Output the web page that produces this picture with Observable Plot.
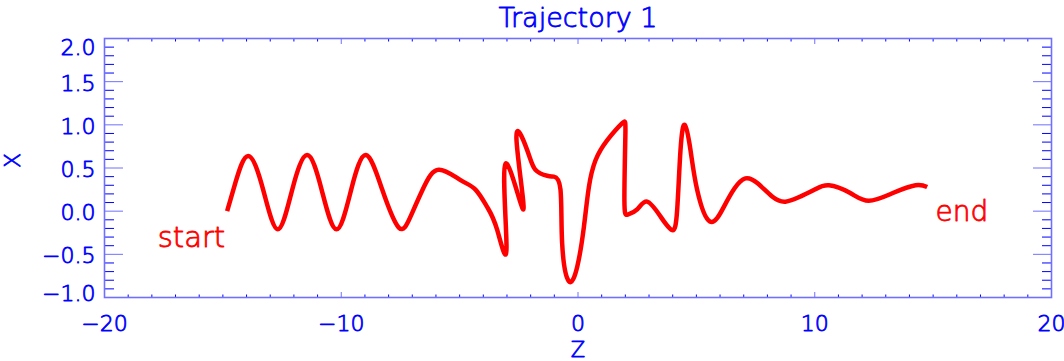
<!DOCTYPE html>
<html><head><meta charset="utf-8">
<script src="https://cdn.jsdelivr.net/npm/d3@7"></script>
<script src="https://cdn.jsdelivr.net/npm/@observablehq/plot@0.6"></script>
<style>html,body{margin:0;padding:0;background:#fff;}</style>
</head><body><div id="chart"></div>
<script>
const titleText = "Trajectory 1";
const xTitle = "Z";
const yTitle = "X";

// trajectory points (Z, X)
const zValues = [-14.82, -14.47, -13.93, -13.30, -12.68, -12.07, -11.44, -10.83, -10.20, -9.58, -8.96, -8.27, -7.57, -7.07, -6.51, -5.88, -4.96, -4.33, -3.84, -3.41, -3.02, -3.06, -2.31, -2.60, -2.15, -1.80, -1.30, -1.02, -0.74, -0.67, -0.39, -0.03, 0.25, 0.46, 0.74, 1.23, 1.87, 2.00, 1.96, 2.10, 2.50, 2.92, 3.48, 3.98, 4.19, 4.33, 4.51, 4.75, 5.03, 5.57, 6.16, 6.60, 7.07, 7.60, 8.20, 8.76, 9.40, 10.00, 10.60, 11.50, 12.28, 13.30, 14.26, 14.75];
const xValues = [0.00, 0.33, 0.64, 0.25, -0.21, 0.25, 0.65, 0.25, -0.21, 0.25, 0.65, 0.25, -0.19, -0.06, 0.28, 0.48, 0.36, 0.25, 0.05, -0.22, -0.42, 0.55, 0.02, 0.84, 0.71, 0.48, 0.41, 0.40, 0.25, -0.37, -0.81, -0.64, -0.18, 0.28, 0.59, 0.82, 1.02, 0.86, 0.13, -0.04, 0.02, 0.11, -0.06, -0.22, 0.02, 0.71, 1.00, 0.71, 0.25, -0.12, 0.05, 0.26, 0.38, 0.32, 0.17, 0.11, 0.17, 0.25, 0.30, 0.21, 0.12, 0.21, 0.30, 0.28];

const xMajorTicks = [-20, -10, 0, 10, 20];
const xMinorTicks = [-19,-18,-17,-16,-15,-14,-13,-12,-11,-9,-8,-7,-6,-5,-4,-3,-2,-1,1,2,3,4,5,6,7,8,9,11,12,13,14,15,16,17,18,19];
const yMajorTicks = [-1.0, -0.5, 0.0, 0.5, 1.0, 1.5, 2.0];
const yMinorTicks = [-0.9,-0.8,-0.7,-0.6,-0.4,-0.3,-0.2,-0.1,0.1,0.2,0.3,0.4,0.6,0.7,0.8,0.9,1.1,1.2,1.3,1.4,1.6,1.7,1.8,1.9];
const yInnerLabels = [-0.5, 0.0, 0.5, 1.0, 1.5];
const yTopLabel = [2.0];
const yBottomLabel = [-1.0];

const annLabels = ["start", "end"];
const annZ = [-14.9, 15.1];
const annX = [-0.31, -0.01];

const points = zValues.map((z, i) => ({z, x: xValues[i]}));
const ann = annLabels.map((label, i) => ({label, z: annZ[i], x: annX[i]}));

const blue = "#0000ff";
const red = "#ff0000";
const frameBlue = "#7070ff";
const fmt = d3.format(".1f");
const font = "DejaVu Sans";
const tw = 0.8; // stroke added to thin glyphs

const labelStyle = {fontSize: 22, fill: blue, textStroke: blue, textStrokeWidth: tw, label: null};

const chart = Plot.plot({
  width: 1064,
  height: 361,
  marginLeft: 104,
  marginRight: 13,
  marginTop: 38,
  marginBottom: 64,
  style: {fontFamily: font, fontWeight: "200", color: blue, background: "#fff"},
  x: {domain: [-20, 20]},
  y: {domain: [-1, 2]},
  marks: [
    // bottom axis labels and ticks
    Plot.axisX(xMajorTicks, {anchor: "bottom", tickSize: 0, tickPadding: 18, ...labelStyle}),
    Plot.axisX(xMajorTicks, {anchor: "bottom", tickSize: 5, dy: -5, stroke: frameBlue, fill: "none", label: null}),
    Plot.axisX(xMinorTicks, {anchor: "bottom", tickSize: 2.5, dy: -2.5, stroke: blue, fill: "none", label: null}),
    Plot.axisX(xMajorTicks, {anchor: "top", tickSize: 5, dy: 5, stroke: frameBlue, fill: "none", label: null}),
    Plot.axisX(xMinorTicks, {anchor: "top", tickSize: 2.5, dy: 2.5, stroke: blue, fill: "none", label: null}),
    // left axis labels and ticks
    Plot.axisY(yInnerLabels, {anchor: "left", tickSize: 0, tickPadding: 9, dy: 2, tickFormat: fmt, ...labelStyle}),
    Plot.axisY(yTopLabel, {anchor: "left", tickSize: 0, tickPadding: 9, dy: 9, tickFormat: fmt, ...labelStyle}),
    Plot.axisY(yBottomLabel, {anchor: "left", tickSize: 0, tickPadding: 9, dy: -4, tickFormat: fmt, ...labelStyle}),
    Plot.axisY(yMajorTicks, {anchor: "left", tickSize: 19, dx: 19, stroke: frameBlue, fill: "none", label: null}),
    Plot.axisY(yMinorTicks, {anchor: "left", tickSize: 10, dx: 10, stroke: blue, fill: "none", label: null}),
    Plot.axisY(yMajorTicks, {anchor: "right", tickSize: 19, dx: -19, stroke: frameBlue, fill: "none", label: null}),
    Plot.axisY(yMinorTicks, {anchor: "right", tickSize: 10, dx: -10, stroke: blue, fill: "none", label: null}),
    Plot.frame({stroke: frameBlue, strokeWidth: 1.6}),
    // trajectory
    Plot.line(points, {x: "z", y: "x", curve: "natural", stroke: red, strokeWidth: 4.5, strokeLinejoin: "round", strokeLinecap: "butt"}),
    Plot.text(ann.slice(0, 1), {x: "z", y: "x", text: "label", textAnchor: "end", fontSize: 29, fill: red, stroke: red, strokeWidth: tw}),
    Plot.text(ann.slice(1), {x: "z", y: "x", text: "label", textAnchor: "start", fontSize: 28, fill: red, stroke: red, strokeWidth: tw}),
    // titles
    Plot.text([titleText], {frameAnchor: "top", text: d => d, lineAnchor: "bottom", dy: -12, fontSize: 27, fill: blue, stroke: blue, strokeWidth: tw}),
    Plot.text([xTitle], {frameAnchor: "bottom", text: d => d, lineAnchor: "bottom", dy: 59, fontSize: 21, fill: blue, stroke: blue, strokeWidth: tw}),
    Plot.text([yTitle], {frameAnchor: "left", text: d => d, rotate: -90, dx: -92, fontSize: 22, fill: blue, stroke: blue, strokeWidth: tw})
  ]
});
document.getElementById("chart").appendChild(chart);
</script>
</body></html>
